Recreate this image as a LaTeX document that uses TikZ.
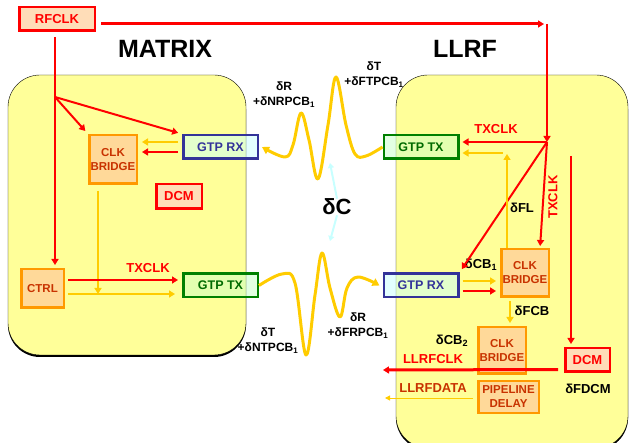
\documentclass[tikz,border=0pt]{standalone}
\usepackage{fontspec}
\setmainfont{Liberation Sans}
\usetikzlibrary{arrows.meta, positioning, calc, shadows}
\definecolor{zoneYellow}{HTML}{FFFF99}
\definecolor{clkRed}{HTML}{FF0000}
\definecolor{dataYellow}{HTML}{FFCC00}
\definecolor{bridgeOrange}{HTML}{FF9900}
\definecolor{bridgeFill}{HTML}{FFD999}
\definecolor{bridgeText}{HTML}{C83200}
\definecolor{peachFill}{HTML}{FFDDB8}
\definecolor{gtpBlue}{HTML}{333399}
\definecolor{gtpCyanFill}{HTML}{C8FFFF}
\definecolor{gtpGreen}{HTML}{008000}
\definecolor{gtpGreenFill}{HTML}{C8FFC8}
\definecolor{gtpGreenText}{HTML}{006A00}
\definecolor{hintCyan}{HTML}{C8FFFF}
\tikzset{
  zone/.style={draw=black, fill=zoneYellow, rounded corners=32pt,
    drop shadow={shadow xshift=0pt, shadow yshift=-2pt, fill=black, opacity=1}},
  clkbox/.style={draw=clkRed, line width=2.5pt, fill=peachFill, text=clkRed, inner sep=0pt,
    font=\fontsize{13}{15}\selectfont\bfseries},
  bridgebox/.style={draw=bridgeOrange, line width=2.5pt, fill=bridgeFill, text=bridgeText,
    align=center, inner sep=0pt, font=\fontsize{11.5}{14}\selectfont\bfseries},
  gtpbox/.style={line width=2.5pt, fill opacity=.5, text opacity=1, inner sep=0pt,
    minimum width=74.5pt, minimum height=23.5pt, font=\fontsize{12.5}{14}\selectfont\bfseries},
  gtptx/.style={gtpbox, draw=gtpGreen, fill=gtpGreenFill, text=gtpGreenText},
  gtprx/.style={gtpbox, draw=gtpBlue, fill=gtpCyanFill, text=gtpBlue},
  title/.style={font=\fontsize{25}{28}\selectfont\bfseries, inner sep=0pt},
  lbl/.style={font=\fontsize{13}{15}\selectfont\bfseries, align=center, inner sep=0pt},
  wavelbl/.style={lbl, font=\fontsize{12}{15}\selectfont\bfseries},
  redlbl/.style={lbl, text=clkRed},
  clkarr/.style={-{Triangle[length=6pt, width=7pt]}, clkRed, line width=2.5pt},
  dataarr/.style={-{Triangle[length=6pt, width=7pt]}, dataYellow, line width=2.5pt},
  wave/.style={-{Triangle[length=7pt, width=8pt]}, dataYellow, line width=3pt, line join=round},
  hintarr/.style={-{Triangle[length=5pt, width=6pt]}, hintCyan, line width=2pt},
}
\begin{document}
\begin{tikzpicture}[x=1pt, y=-1pt]
  \useasboundingbox (0,0) rectangle (629,443);
  \clip (0,0) rectangle (629,443);
  % zones
  \draw[zone] (8,75) rectangle (246,355);
  \draw[zone] (396,75) rectangle (628,448);
  \node[title] (matrixTitle) at (165,49) {MATRIX};
  \node[title] (llrfTitle) at (465,49) {LLRF};

  % MATRIX side
  \node[clkbox, minimum width=75.5pt, minimum height=23.5pt] (rfclk) at (57,19) {RFCLK};
  \node[bridgebox, minimum width=47.5pt, minimum height=48.5pt] (bridgeL) at (113,159.5) {CLK\\BRIDGE};
  \node[gtprx] (gtprxL) at (220.5,147) {GTP RX};
  \node[clkbox, minimum width=45.5pt, minimum height=24.5pt] (dcmL) at (179,196.5) {DCM};
  \node[bridgebox, minimum width=42.5pt, minimum height=38.5pt] (ctrl) at (42.5,288.5) {CTRL};
  \node[gtptx] (gtptxL) at (220.5,285.5) {GTP TX};

  % LLRF side
  \node[gtptx] (gtptxR) at (421,147) {GTP TX};
  \node[gtprx] (gtprxR) at (421,285.5) {GTP RX};
  \node[bridgebox, minimum width=47.5pt, minimum height=47.5pt] (bridgeR1) at (525,273) {CLK\\BRIDGE};
  \node[bridgebox, minimum width=47.5pt, minimum height=46.5pt] (bridgeR2) at (502,350.5) {CLK\\BRIDGE};
  \node[bridgebox, minimum width=60.5pt, minimum height=31.5pt] (pipe) at (508.5,397) {PIPELINE\\DELAY};
  \node[clkbox, minimum width=44.5pt, minimum height=23.5pt] (dcmR) at (587.5,360) {DCM};

  % labels
  \node[wavelbl] (dRN) at (284,95) {δR\\+δNRPCB\textsubscript{1}};
  \node[wavelbl] (dTF) at (374,75) {δT\\+δFTPCB\textsubscript{1}};
  \node[wavelbl] (dTN) at (268,341) {δT\\+δNTPCB\textsubscript{1}};
  \node[wavelbl] (dRF) at (358,326) {δR\\+δFRPCB\textsubscript{1}};
  \node[lbl, font=\fontsize{22}{24}\selectfont\bfseries] (dC) at (337,207) {δC};
  \node[redlbl] (txclkL) at (148,268) {TXCLK};
  \node[redlbl] (txclkR) at (496,129) {TXCLK};
  \node[redlbl, rotate=90] (txclkV) at (553,197) {TXCLK};
  \node[lbl] (dFL) at (522,208) {δFL};
  \node[lbl] (dCB1) at (481,265) {δCB\textsubscript{1}};
  \node[lbl] (dFCB) at (532,311) {δFCB};
  \node[lbl] (dCB2) at (452,341) {δCB\textsubscript{2}};
  \node[lbl] (dFDCM) at (588,389) {δFDCM};
  \node[redlbl] (llrfclk) at (433,359) {LLRFCLK};
  \node[redlbl, text=bridgeText] (llrfdata) at (433,388) {LLRFDATA};

  \coordinate (split) at (55,97);
  \coordinate (turn) at (547,24);
  \coordinate (junc) at (547,142);
  \coordinate (flTop) at (507,153);
  \coordinate (dcmFeed) at (571,156);
  \coordinate (mergeL) at (98,294);
  \coordinate (clkOut) at (383,370);
  \coordinate (dataOut) at (385,398);
  \coordinate (dcUp) at (330,163);
  \coordinate (dcDown) at (330,241);

  % clock tree, MATRIX
  \draw[clkRed, line width=2.5pt, shorten <=5pt] (rfclk.south -| split) -- (split);
  \draw[clkarr, shorten >=3pt] (split) -- (split |- ctrl.north);
  \draw[clkarr, line width=2pt, shorten >=4pt] (split) -- (bridgeL.north west);
  \draw[clkarr, line width=2pt, shorten >=4pt] (split) -- (gtprxL.north west);
  \draw[dataarr, shorten <=4pt, shorten >=4pt] ($(gtprxL.west)+(0,-5)$) -- ($(gtprxL.west -| bridgeL.east)+(0,-5)$);
  \draw[clkarr, shorten <=4pt, shorten >=4pt] ($(gtprxL.west)+(0,5)$) -- ($(gtprxL.west -| bridgeL.east)+(0,5)$);
  \draw[dataarr, line width=1.5pt, shorten <=6pt] ($(bridgeL.south west)+(10,0)$) -- (mergeL);
  \draw[clkarr, shorten <=3pt, shorten >=4pt] ($(ctrl.east |- gtptxL.west)+(0,-5.5)$) -- ($(gtptxL.west)+(0,-5.5)$);
  \draw[dataarr, line width=2pt, shorten <=3pt, shorten >=7pt] ($(ctrl.east |- gtptxL.west)+(0,8.5)$) -- ($(gtptxL.west)+(0,8.5)$);

  % clock tree, LLRF
  \draw[clkarr, line width=3pt, shorten <=5pt, shorten >=3pt] (rfclk.east |- turn) -- (turn);
  \draw[clkarr] (turn) -- (junc);
  \draw[clkarr, shorten >=3pt] (junc) -- (junc -| gtptxR.east);
  \draw[clkarr, line width=2pt, shorten >=4pt] (junc) -- (gtprxR.north east);
  \draw[clkarr, line width=2pt, shorten >=2pt] (junc) -- ($(bridgeR1.north east)+(-10,0)$);
  \draw[dataarr, line width=2pt, shorten >=1pt] (bridgeR1.north west -| flTop) -- (flTop);
  \draw[dataarr, shorten <=4pt, shorten >=3pt] (flTop) -- (flTop -| gtptxR.east);
  \draw[clkarr, line width=2pt, shorten >=3pt] (dcmFeed) -- (dcmFeed |- dcmR.north);
  \draw[dataarr, shorten <=3pt, shorten >=4pt] ($(gtprxR.east)+(0,-4.5)$) -- ($(gtprxR.east -| bridgeR1.west)+(0,-4.5)$);
  \draw[clkarr, shorten <=3pt, shorten >=4pt] ($(gtprxR.east)+(0,5.5)$) -- ($(gtprxR.east -| bridgeR1.west)+(0,5.5)$);
  \draw[dataarr, line width=2pt, shorten <=3pt, shorten >=3pt] ($(bridgeR1.south west)+(10,0)$) -- ($(bridgeR1.south west |- bridgeR2.north)+(10,0)$);
  \draw[clkarr, line width=3pt, shorten <=6pt] ($(dcmR.west)+(0,9.5)$) -- (clkOut);
  \draw[dataarr, line width=1pt, -{Triangle[length=5pt, width=5pt]}, shorten <=4pt] ($(pipe.west)+(0,1)$) -- (dataOut);

  % links
  \draw[wave] plot[smooth, tension=0.6] coordinates {(gtptxR.west) (366,156) (355,154) (346,125) (336,77)
    (328,125) (318,179) (309,140) (301,113) (293,145) (285,157) ([xshift=3pt]gtprxL.east)};
  \draw[wave] plot[smooth, tension=0.6] coordinates {(gtptxL.east) (282,274) (295,283) (306,355) (315,295)
    (322,253) (330,288) (340,317) (347,288) (358,277) ([xshift=-3pt]gtprxR.west)};
  \draw[hintarr] (dC.north) -- (dcUp);
  \draw[hintarr] (dC.south) -- (dcDown);
\end{tikzpicture}
\end{document}
